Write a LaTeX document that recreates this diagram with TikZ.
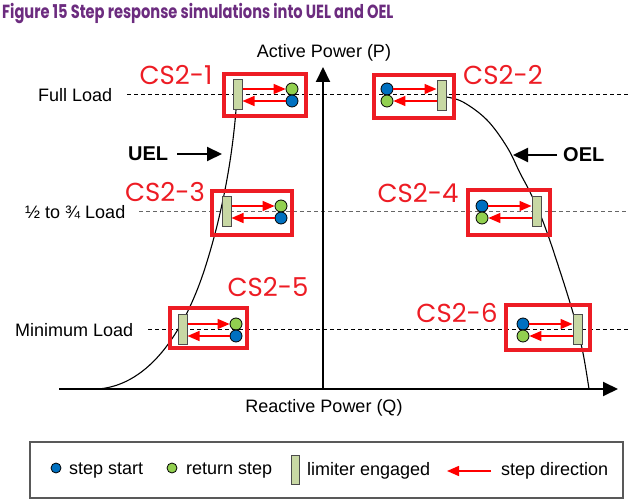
\documentclass[tikz,border=0pt]{standalone}
\usepackage{fontspec}
\setmainfont{Liberation Sans}
\newfontfamily\csfont{Poppins}
\newfontfamily\titlefont[FakeStretch=0.77]{Poppins}
\usetikzlibrary{arrows.meta}
\definecolor{limred}{RGB}{237,28,36}
\definecolor{arrred}{RGB}{255,0,0}
\definecolor{stepblue}{RGB}{0,112,192}
\definecolor{stepgreen}{RGB}{146,208,80}
\definecolor{barfill}{RGB}{200,216,164}
\definecolor{titlepurple}{RGB}{108,44,127}
\tikzset{
  axisline/.style={line width=2pt, -{Triangle[length=15pt,width=14pt]}},
  limcurve/.style={line width=1.1pt},
  loadline/.style={line width=1pt, dash pattern=on 4pt off 3pt},
  csbox/.style={draw=limred, line width=4pt},
  cslabel/.style={text=limred, font=\csfont\fontsize{26}{28}\selectfont, inner sep=0},
  limbar/.style={draw=black!70, fill=barfill, line width=1pt, minimum width=9pt, minimum height=30pt, inner sep=0},
  startdot/.style={circle, draw=black, line width=0.8pt, fill=stepblue, minimum size=12pt, inner sep=0},
  returndot/.style={circle, draw=black, line width=0.8pt, fill=stepgreen, minimum size=12pt, inner sep=0},
  steparrow/.style={draw=arrred, line width=1.5pt, -{Triangle[length=12pt,width=10pt]}},
  axlabel/.style={font=\fontsize{18}{20}\selectfont, inner sep=0},
  ellabel/.style={font=\bfseries\fontsize{20}{22}\selectfont, inner sep=0},
  elarrow/.style={line width=2pt, -{Triangle[length=15pt,width=14pt]}},
}
\begin{document}
\begin{tikzpicture}[x=1pt,y=-1pt]
\useasboundingbox (0,0) rectangle (637,502);
% title
\node[anchor=west, inner sep=0, text=titlepurple, font=\titlefont\bfseries\fontsize{19}{21}\selectfont] (title) at (2,14) {Figure 15 Step response simulations into UEL and OEL};
% load labels and dashed lines
\node[axlabel, anchor=west] (fl) at (38,95) {Full Load};
\node[axlabel, anchor=west] (hl) at (25,212) {½ to ¾ Load};
\node[axlabel, anchor=west] (ml) at (15,330) {Minimum Load};
\coordinate (flend) at (628,95);
\coordinate (hlend) at (628,212);
\coordinate (mlend) at (628,330);
\draw[loadline] (127,95) -- (flend);
\draw[loadline, black!60] (139,212) -- (hlend);
\draw[loadline] (148,330) -- (mlend);
% axes
\coordinate (O) at (323,389);
\coordinate (xend) at (618,389);
\coordinate (xstart) at (59,389);
\coordinate (yend) at (323,67);
\draw[axisline] (xstart) -- (xend);
\draw[axisline] (O) -- (yend);
\node[axlabel] (plabel) at (324,53) {Active Power (P)};
\node[axlabel] (qlabel) at (324,408) {Reactive Power (Q)};
% limit curves
\draw[limcurve] (98,389) .. controls (150,385) and (185,330) .. (205,268) .. controls (222,215) and (232,160) .. (236,110);
\draw[limcurve] plot[smooth, tension=0.6] coordinates {(446,97) (463,102) (487,120) (507,147) (520,173) (530,192) (540,214) (549,238) (558,265) (567,293) (575,320) (583,353) (589,389)};
% UEL / OEL
\node[ellabel, anchor=west] (uel) at (128,154) {UEL};
\coordinate (uelt) at (222,154);
\draw[elarrow] (177,154) -- (uelt);
\node[ellabel, anchor=west] (oel) at (563,155) {OEL};
\coordinate (oelt) at (513,155);
\draw[elarrow] (oel.west) ++(-6,0) -- (oelt);
% CS2-1
\draw[csbox] (224,74) rectangle (306,116);
\node[limbar] (b1) at (237.5,95) {};
\node[returndot] (g1) at (292,89) {};
\node[startdot] (s1) at (292,101) {};
\draw[steparrow] (b1.east |- g1) -- (g1.west);
\draw[steparrow] (s1.west) -- (b1.east |- s1);
\node[cslabel] (l1) at (176,75) {CS2-1};
% CS2-2
\draw[csbox] (374,75) rectangle (454,118);
\node[limbar] (b2) at (441.5,95.5) {};
\node[startdot] (s2) at (387,89) {};
\node[returndot] (g2) at (387,101) {};
\draw[steparrow] (s2.east) -- (b2.west |- s2);
\draw[steparrow] (b2.west |- g2) -- (g2.east);
\node[cslabel] (l2) at (503,75) {CS2-2};
% CS2-3
\draw[csbox] (212,191) rectangle (292,235);
\node[limbar] (b3) at (226.5,212) {};
\node[returndot] (g3) at (281,206) {};
\node[startdot] (s3) at (281,218) {};
\draw[steparrow] (b3.east |- g3) -- (g3.west);
\draw[steparrow] (s3.west) -- (b3.east |- s3);
\node[cslabel] (l3) at (165,192) {CS2-3};
% CS2-4
\draw[csbox] (468,190) rectangle (550,235);
\node[limbar] (b4) at (536.5,212) {};
\node[startdot] (s4) at (482,206) {};
\node[returndot] (g4) at (482,218) {};
\draw[steparrow] (s4.east) -- (b4.west |- s4);
\draw[steparrow] (b4.west |- g4) -- (g4.east);
\node[cslabel] (l4) at (418,193) {CS2-4};
% CS2-5
\draw[csbox] (170,308) rectangle (247,348);
\node[limbar] (b5) at (182.5,330) {};
\node[returndot] (g5) at (236,324) {};
\node[startdot] (s5) at (236,336) {};
\draw[steparrow] (b5.east |- g5) -- (g5.west);
\draw[steparrow] (s5.west) -- (b5.east |- s5);
\node[cslabel] (l5) at (268,287) {CS2-5};
% CS2-6
\draw[csbox] (506,305) rectangle (590,350);
\node[limbar] (b6) at (577.5,330) {};
\node[startdot] (s6) at (523,324) {};
\node[returndot] (g6) at (523,336) {};
\draw[steparrow] (s6.east) -- (b6.west |- s6);
\draw[steparrow] (b6.west |- g6) -- (g6.east);
\node[cslabel] (l6) at (457,313) {CS2-6};
% legend
\draw[draw=black!65, line width=1.5pt] (30,442) rectangle (623,498);
\node[startdot, minimum size=10pt] (ls) at (56,468) {};
\node[axlabel, anchor=west] (lst) at (69,471) {step start};
\node[returndot, minimum size=10pt] (lr) at (172,468) {};
\node[axlabel, anchor=west] (lrt) at (186,471) {return step};
\node[limbar, minimum width=8pt, minimum height=29pt] (lb) at (295,470) {};
\node[axlabel, anchor=west] (lbt) at (307,471) {limiter engaged};
\node[axlabel, anchor=west] (lat) at (501,471) {step direction};
\coordinate (latip) at (447,471);
\draw[steparrow] (lat.west) ++(-10,0) -- (latip);
\end{tikzpicture}
\end{document}
